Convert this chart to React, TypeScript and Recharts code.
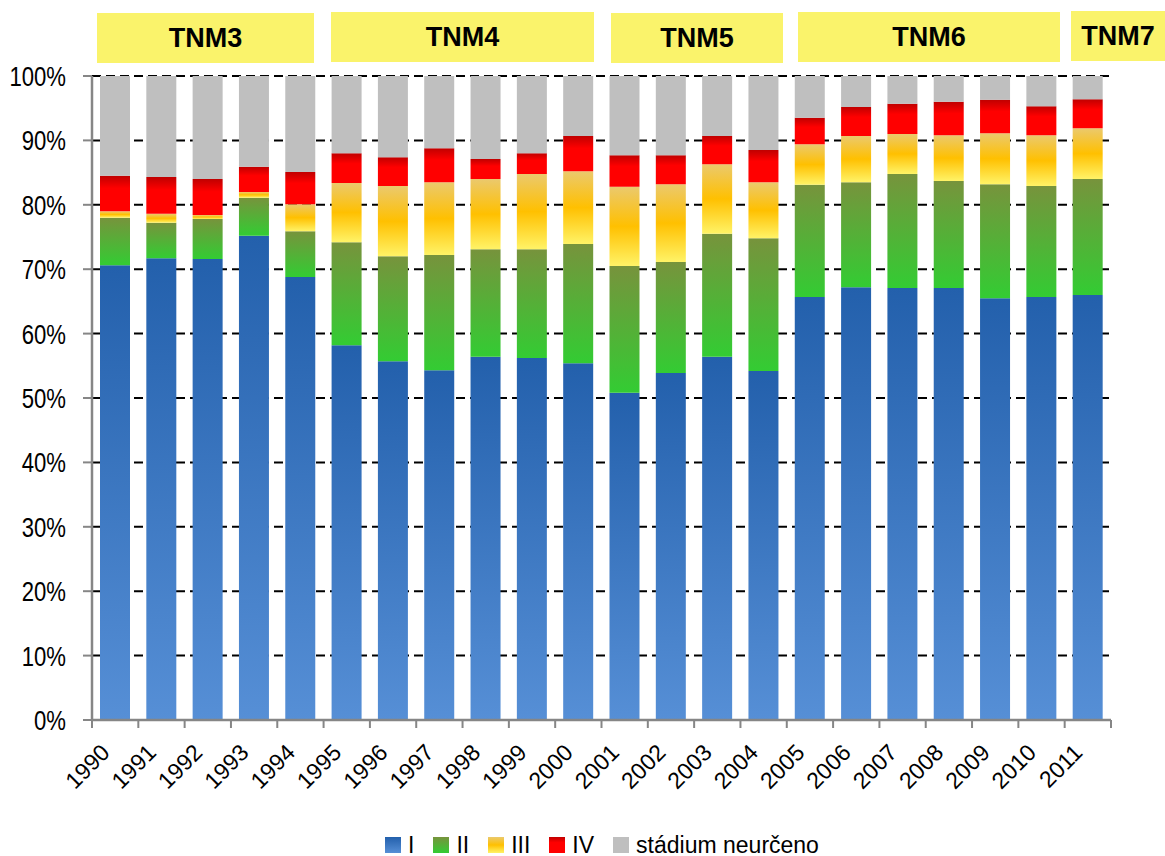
import React from "react";
import {
  BarChart,
  Bar,
  XAxis,
  YAxis,
  CartesianGrid,
} from "recharts";

// values, percent of all cases per year
const years = [
  "1990", "1991", "1992", "1993", "1994", "1995", "1996", "1997", "1998", "1999", "2000",
  "2001", "2002", "2003", "2004", "2005", "2006", "2007", "2008", "2009", "2010", "2011",
];
const stageI = [70.6, 71.7, 71.6, 75.2, 68.8, 58.2, 55.7, 54.3, 56.4, 56.2, 55.4, 50.8, 53.9, 56.4, 54.2, 65.7, 67.2, 67.1, 67.1, 65.5, 65.7, 66.0];
const stageII = [7.4, 5.5, 6.2, 5.9, 7.1, 16.0, 16.3, 17.9, 16.7, 16.9, 18.5, 19.7, 17.2, 19.1, 20.6, 17.4, 16.3, 17.7, 16.6, 17.7, 17.2, 18.0];
const stageIII = [1.0, 1.4, 0.6, 0.9, 4.2, 9.2, 10.9, 11.3, 10.9, 11.7, 11.3, 12.3, 12.1, 10.8, 8.7, 6.3, 7.2, 6.2, 7.1, 7.9, 7.9, 7.9];
const stageIV = [5.5, 5.7, 5.6, 3.9, 5.0, 4.6, 4.5, 5.3, 3.1, 3.2, 5.5, 4.9, 4.5, 4.4, 5.0, 4.1, 4.5, 4.7, 5.2, 5.2, 4.5, 4.5];
const unknown = [15.5, 15.7, 16.0, 14.1, 14.9, 12.0, 12.6, 11.2, 12.9, 12.0, 9.3, 12.3, 12.3, 9.3, 11.5, 6.5, 4.8, 4.3, 4.0, 3.7, 4.7, 3.6];
const yTicks = [0, 10, 20, 30, 40, 50, 60, 70, 80, 90, 100];
const tnmLabels = ["TNM3", "TNM4", "TNM5", "TNM6", "TNM7"];

const data = years.map((year, i) => ({
  year,
  s1: stageI[i],
  s2: stageII[i],
  s3: stageIII[i],
  s4: stageIV[i],
  nx: unknown[i],
}));

const series = [
  { key: "s1", name: "I", fill: "url(#gBlue)", css: "linear-gradient(#2360ac, #568fd6)" },
  { key: "s2", name: "II", fill: "url(#gGreen)", css: "linear-gradient(#77933c, #33cc33)" },
  { key: "s3", name: "III", fill: "url(#gYellow)", css: "linear-gradient(#ebc96d, #ffc000 50%, #fff367)" },
  { key: "s4", name: "IV", fill: "url(#gRed)", css: "linear-gradient(#c00000, #ff0000 35%, #ff0000)" },
  { key: "nx", name: "stádium neurčeno", fill: "#bfbfbf", css: "#bfbfbf" },
];

// layout
const W = 1165;
const H = 856;
const xAxisHeight = 90;
const margin = { top: 76, right: 54, bottom: 136 - xAxisHeight, left: 0 };
const yAxisWidth = 92;
const band = (W - margin.left - margin.right - yAxisWidth) / years.length;
const font = '"Liberation Sans", Arial, sans-serif';

const tnmBoxes = [
  { left: 97, top: 13, width: 217 },
  { left: 331, top: 12, width: 263 },
  { left: 611, top: 13, width: 172 },
  { left: 798, top: 12, width: 262 },
  { left: 1071, top: 11, width: 94 },
];

const YearTick = (props: any) => {
  const { x, y, payload, index } = props;
  const last = index === years.length - 1;
  const tx = x - 4;
  const ty = y + 34;
  return (
    <g>
      <line x1={x - band / 2} y1={y} x2={x - band / 2} y2={y + 8} stroke="#868686" strokeWidth={2} />
      {last && <line x1={x + band / 2} y1={y} x2={x + band / 2} y2={y + 8} stroke="#868686" strokeWidth={2} />}
      <text
        x={tx}
        y={ty}
        textAnchor="end"
        fontSize={23}
        fontFamily={font}
        fill="#000"
        transform={`rotate(-45, ${tx}, ${ty})`}
      >
        {payload.value}
      </text>
    </g>
  );
};

const PercentTick = (props: any) => {
  const { x, y, payload } = props;
  return (
    <text
      transform={`translate(${x}, ${y}) scale(0.79, 1)`}
      textAnchor="end"
      dy="0.36em"
      fontSize={28}
      fontFamily={font}
      fill="#000"
    >
      {`${payload.value}%`}
    </text>
  );
};

export default function App() {
  return (
    <div style={{ position: "relative", width: W, height: H, fontFamily: font }}>
      <style>{"body{margin:0}"}</style>
      {tnmBoxes.map((b, i) => (
        <div
          key={tnmLabels[i]}
          style={{
            position: "absolute",
            left: b.left,
            top: b.top,
            width: b.width,
            height: 50,
            background: "#faf36b",
            display: "flex",
            alignItems: "center",
            justifyContent: "center",
            fontWeight: "bold",
            fontSize: 27,
            color: "#000",
          }}
        >
          {tnmLabels[i]}
        </div>
      ))}
      <BarChart width={W} height={H} data={data} margin={margin} barSize={30}>
        <defs>
          <linearGradient id="gBlue" x1="0" y1="0" x2="0" y2="1">
            <stop offset="0%" stopColor="#2360ac" />
            <stop offset="100%" stopColor="#568fd6" />
          </linearGradient>
          <linearGradient id="gGreen" x1="0" y1="0" x2="0" y2="1">
            <stop offset="0%" stopColor="#77933c" />
            <stop offset="100%" stopColor="#33cc33" />
          </linearGradient>
          <linearGradient id="gYellow" x1="0" y1="0" x2="0" y2="1">
            <stop offset="0%" stopColor="#ebc96d" />
            <stop offset="50%" stopColor="#ffc000" />
            <stop offset="100%" stopColor="#fff367" />
          </linearGradient>
          <linearGradient id="gRed" x1="0" y1="0" x2="0" y2="1">
            <stop offset="0%" stopColor="#c00000" />
            <stop offset="35%" stopColor="#ff0000" />
            <stop offset="100%" stopColor="#ff0000" />
          </linearGradient>
        </defs>
        <CartesianGrid
          yAxisId="left"
          vertical={false}
          stroke="#000"
          strokeWidth={2}
          strokeDasharray="9 5"
        />
        <XAxis
          dataKey="year"
          interval={0}
          tickLine={false}
          tickSize={0}
          tickMargin={0}
          height={xAxisHeight}
          axisLine={{ stroke: "#868686", strokeWidth: 2.5 }}
          tick={<YearTick />}
        />
        <YAxis
          yAxisId="left"
          width={yAxisWidth}
          domain={[0, 100]}
          ticks={yTicks}
          allowDataOverflow
          tickSize={9}
          tickMargin={17}
          tickLine={{ stroke: "#868686", strokeWidth: 2 }}
          axisLine={{ stroke: "#868686", strokeWidth: 2.5 }}
          tick={<PercentTick />}
        />
        <YAxis
          yAxisId="right"
          orientation="right"
          width={0}
          domain={[0, 100]}
          tick={false}
          tickLine={false}
          axisLine={{ stroke: "#000", strokeWidth: 2 }}
        />
        {series.map((s) => (
          <Bar
            key={s.key}
            yAxisId="left"
            dataKey={s.key}
            name={s.name}
            stackId="a"
            fill={s.fill}
            isAnimationActive={false}
          />
        ))}
      </BarChart>
      <div
        style={{
          position: "absolute",
          left: 385,
          top: 832,
          height: 26,
          display: "flex",
          alignItems: "center",
          fontSize: 23,
          color: "#000",
          whiteSpace: "nowrap",
        }}
      >
        {series.map((s) => (
          <div key={s.key} style={{ display: "flex", alignItems: "center", marginRight: 19 }}>
            <span style={{ display: "inline-block", width: 16, height: 16, background: s.css, marginRight: 7 }} />
            <span>{s.name}</span>
          </div>
        ))}
      </div>
    </div>
  );
}
